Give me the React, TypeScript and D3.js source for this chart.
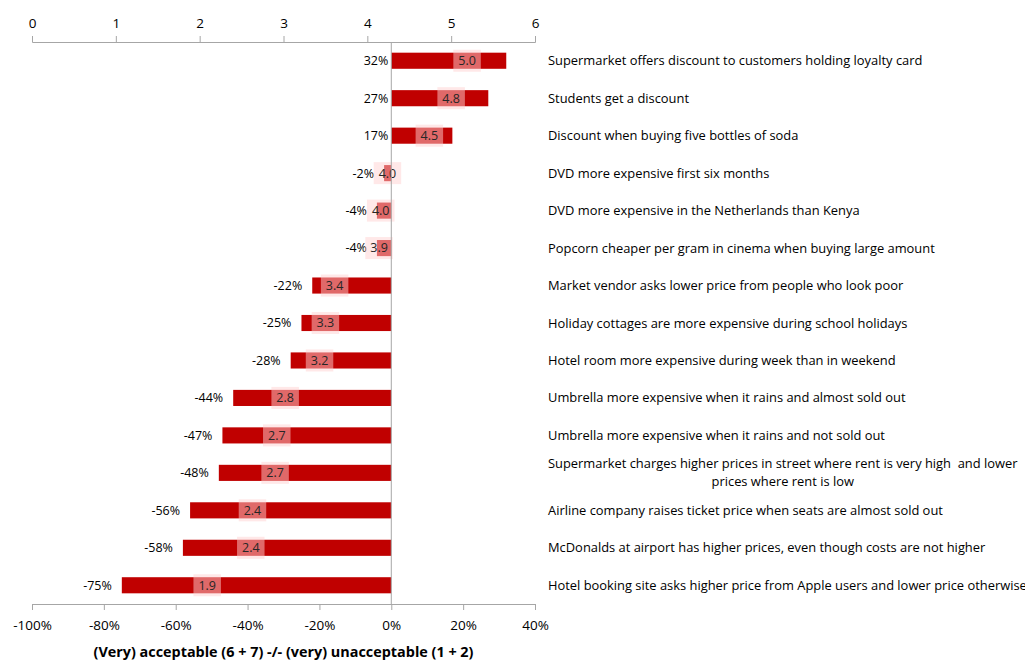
import * as d3 from 'd3'
import { useEffect, useRef } from 'react'

const width = 1025
const height = 661
const plotLeft = 32
const plotRight = 535
const plotTop = 42
const plotBottom = 604
const labelX = 548
const font = "'Open Sans', 'Noto Sans', sans-serif"

const categories = [
  'Supermarket offers discount to customers holding loyalty card',
  'Students get a discount',
  'Discount when buying five bottles of soda',
  'DVD more expensive first six months',
  'DVD more expensive in the Netherlands than Kenya',
  'Popcorn cheaper per gram in cinema when buying large amount',
  'Market vendor asks lower price from people who look poor',
  'Holiday cottages are more expensive during school holidays',
  'Hotel room more expensive during week than in weekend',
  'Umbrella more expensive when it rains and almost sold out',
  'Umbrella more expensive when it rains and not sold out',
  'Supermarket charges higher prices in street where rent is very high  and lower\nprices where rent is low',
  'Airline company raises ticket price when seats are almost sold out',
  'McDonalds at airport has higher prices, even though costs are not higher',
  'Hotel booking site asks higher price from Apple users and lower price otherwise',
]
// net acceptability: (very) acceptable minus (very) unacceptable
const netShares = [0.32, 0.27, 0.17, -0.02, -0.04, -0.04, -0.22, -0.25, -0.28, -0.44, -0.47, -0.48, -0.56, -0.58, -0.75]
const meanScores = [4.99, 4.8, 4.54, 4.04, 3.96, 3.94, 3.41, 3.3, 3.23, 2.82, 2.72, 2.7, 2.43, 2.41, 1.89]
const topTicks = [0, 1, 2, 3, 4, 5, 6]
const bottomTicks = [-1, -0.8, -0.6, -0.4, -0.2, 0, 0.2, 0.4]

const pct = (v: number) => d3.format('.0%')(v).replace('\u2212', '-')

export default function App() {
  const ref = useRef<SVGSVGElement>(null)

  useEffect(() => {
    const svg = d3.select(ref.current)
    svg.selectAll('*').remove()

    const xShare = d3.scaleLinear([-1, 0.4], [plotLeft, plotRight])
    const xMean = d3.scaleLinear([0, 6], [plotLeft, plotRight])
    const y = d3
      .scaleBand<number>(d3.range(categories.length), [plotTop, plotBottom])
      .paddingInner(0.57)
      .paddingOuter(0.285)

    // top axis (mean score)
    svg
      .append('g')
      .attr('transform', `translate(0,${plotTop})`)
      .call(d3.axisTop(xMean).tickValues(topTicks).tickSize(6).tickPadding(8).tickFormat(d3.format('d')))
      .call(g => g.selectAll('line,path').attr('stroke', '#a6a6a6'))
      .call(g => g.selectAll('text').attr('font-family', font).attr('font-size', 13.5).attr('fill', '#000'))

    // bottom axis (net share)
    svg
      .append('g')
      .attr('transform', `translate(0,${plotBottom})`)
      .call(d3.axisBottom(xShare).tickValues(bottomTicks).tickSize(6).tickPadding(10).tickFormat(d => pct(+d)))
      .call(g => g.selectAll('line,path').attr('stroke', '#a6a6a6'))
      .call(g => g.selectAll('text').attr('font-family', font).attr('font-size', 13.5).attr('fill', '#000'))

    svg
      .append('text')
      .attr('x', (plotLeft + plotRight) / 2)
      .attr('y', 657)
      .attr('text-anchor', 'middle')
      .attr('font-family', font)
      .attr('font-size', 14.4)
      .attr('font-weight', 'bold')
      .text('(Very) acceptable (6 + 7) -/- (very) unacceptable (1 + 2)')

    const rows = svg
      .selectAll('g.row')
      .data(d3.range(categories.length))
      .join('g')
      .attr('class', 'row')

    rows
      .append('rect')
      .attr('x', i => xShare(Math.min(0, netShares[i])))
      .attr('y', i => y(i)!)
      .attr('width', i => Math.abs(xShare(netShares[i]) - xShare(0)))
      .attr('height', y.bandwidth())
      .attr('fill', '#c00000')

    // zero line
    svg
      .append('line')
      .attr('x1', xShare(0))
      .attr('x2', xShare(0))
      .attr('y1', plotTop)
      .attr('y2', plotBottom)
      .attr('stroke', '#a6a6a6')

    rows
      .append('text')
      .attr('x', i => xShare(Math.min(0, netShares[i])) - (netShares[i] < 0 ? 10 : 3))
      .attr('y', i => y(i)! + y.bandwidth() / 2)
      .attr('dy', '0.35em')
      .attr('text-anchor', 'end')
      .attr('font-family', font)
      .attr('font-size', 12.5)
      .attr('fill', '#000')
      .text(i => pct(netShares[i]))

    const boxW = 27.5
    const boxH = 22
    rows
      .append('rect')
      .attr('x', i => xMean(meanScores[i]) + 3)
      .attr('y', i => y(i)! + y.bandwidth() / 2 - boxH / 2)
      .attr('width', boxW)
      .attr('height', boxH)
      .attr('fill', 'rgb(255,210,210)')
      .attr('fill-opacity', 0.5)

    rows
      .append('text')
      .attr('x', i => xMean(meanScores[i]) + 3 + boxW / 2)
      .attr('y', i => y(i)! + y.bandwidth() / 2)
      .attr('dy', '0.35em')
      .attr('text-anchor', 'middle')
      .attr('font-family', font)
      .attr('font-size', 12.5)
      .attr('fill', '#262626')
      .text(i => meanScores[i].toFixed(1))

    // category labels, multi-line ones centred as a block
    rows.each(function (i) {
      const lines = categories[i].split('\n')
      const cy = y(i)! + y.bandwidth() / 2
      const t = d3
        .select(this)
        .append('text')
        .attr('font-family', font)
        .attr('font-size', 12.9)
        .attr('fill', '#000')
        .style('white-space', 'pre')
      if (lines.length === 1) {
        t.attr('x', labelX).attr('y', cy).attr('dy', '0.35em').text(lines[0])
        return
      }
      const lh = 18
      const spans = lines.map((l, k) =>
        t
          .append('tspan')
          .attr('y', cy - ((lines.length - 1) * lh) / 2 + k * lh)
          .attr('dy', '0.35em')
          .text(l)
      )
      const maxW = d3.max(spans, s => (s.node() as SVGTextContentElement).getComputedTextLength()) ?? 0
      t.attr('text-anchor', 'middle')
      spans.forEach(s => s.attr('x', labelX + maxW / 2))
    })
  }, [])

  return (
    <svg
      ref={ref}
      width={width}
      height={height}
      viewBox={`0 0 ${width} ${height}`}
      style={{ position: 'absolute', left: 0, top: 0, background: '#fff' }}
    ></svg>
  )
}
